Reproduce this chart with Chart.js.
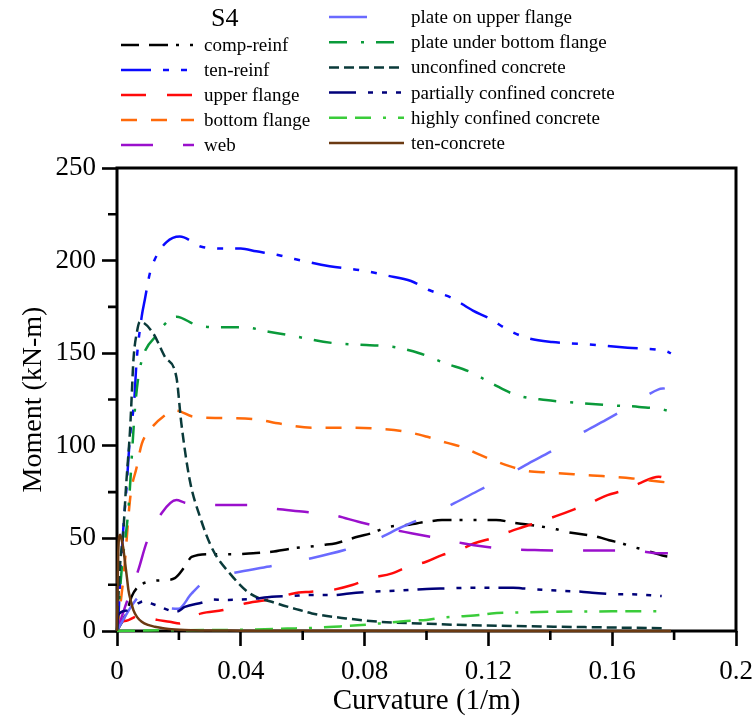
<!DOCTYPE html>
<html>
<head>
<meta charset="utf-8">
<title>S4 moment-curvature contributions</title>
<script src="https://cdn.jsdelivr.net/npm/chart.js@4/dist/chart.umd.min.js"></script>
<style>
  html, body { margin: 0; padding: 0; background: #fff; }
  #wrap { width: 755px; height: 722px; }
</style>
</head>
<body>
<div id="wrap"><canvas id="c" width="755" height="722"></canvas></div>
<script>
// ---- data: [curvature (1/m), moment (kN-m)] ----
const compReinf = [[0,0],[0.001,3],[0.002,6],[0.0035,12],[0.0047,18.5],[0.0069,24],[0.0101,26.6],[0.0155,27.5],[0.0187,28.5],[0.0219,34.7],[0.0241,40],[0.03,41.5],[0.037,41.4],[0.044,42],[0.05,42.8],[0.057,44.7],[0.062,45.5],[0.0665,46.4],[0.0708,47.4],[0.074,49],[0.078,51],[0.082,52.7],[0.0848,54.5],[0.088,56.3],[0.0935,57.2],[0.0967,58.1],[0.1,59],[0.105,59.9],[0.11,60],[0.117,60],[0.1225,60],[0.128,58.5],[0.132,57.6],[0.1375,56.3],[0.142,54.9],[0.145,53.6],[0.152,51.8],[0.1558,50.6],[0.159,49],[0.163,47.4],[0.1665,45.5],[0.17,44],[0.177,40.5],[0.179,40]];
const tenReinf = [[0,0],[0.0004,6],[0.001,27.5],[0.002,54.5],[0.0031,78],[0.0042,105],[0.0056,125],[0.0063,145],[0.008,170],[0.009,179],[0.0106,193],[0.0123,201],[0.016,210],[0.0203,213],[0.0273,207.5],[0.035,206.5],[0.04,206.5],[0.045,205],[0.052,203],[0.057,201],[0.0687,197],[0.08,194.5],[0.087,192],[0.095,189],[0.101,184],[0.108,180],[0.115,173],[0.12,169],[0.127,162],[0.133,158],[0.1406,156],[0.15,155],[0.158,154],[0.165,153],[0.1774,151],[0.179,150]];
const upperFlange = [[0,0],[0.001,4.5],[0.003,5.5],[0.0068,8],[0.009,7.5],[0.013,6],[0.017,5],[0.0203,4],[0.022,6],[0.0273,9.5],[0.0343,11.3],[0.0418,15],[0.0515,17.7],[0.057,20.3],[0.0628,21.2],[0.069,22],[0.076,24.8],[0.082,28.5],[0.0886,31],[0.094,34.7],[0.0999,37.4],[0.105,41],[0.1106,43.7],[0.1155,47.4],[0.121,50],[0.1257,53],[0.131,56],[0.1365,59],[0.1418,62],[0.1477,65.7],[0.153,69.3],[0.1585,73.4],[0.1639,76],[0.1692,80],[0.175,83.3],[0.178,82]];
const bottomFlange = [[0,0],[0.0015,20],[0.0026,38],[0.0036,60],[0.0045,75],[0.0063,88],[0.008,101],[0.0106,108.5],[0.0149,115.7],[0.0192,119],[0.0246,115.7],[0.034,115],[0.045,114.3],[0.0526,112],[0.063,109.8],[0.074,109.8],[0.0848,109.2],[0.0935,107.6],[0.0999,105],[0.1064,101.7],[0.1128,98.6],[0.116,96],[0.1268,89],[0.132,86.6],[0.1397,85.5],[0.1535,84],[0.1665,82.4],[0.1757,80.6],[0.179,80]];
const web = [[0,0],[0.001,5],[0.0026,13],[0.0045,22],[0.0069,33],[0.0096,48],[0.0144,63.6],[0.0192,70.7],[0.0219,69.3],[0.032,68],[0.042,68],[0.051,66],[0.0606,64.4],[0.0697,62.6],[0.078,59],[0.087,55.4],[0.0955,52.7],[0.1035,50.2],[0.1117,47.4],[0.119,45.5],[0.127,44.1],[0.135,43.7],[0.144,43.4],[0.154,43.4],[0.162,43.4],[0.167,43.4],[0.175,42],[0.178,42]];
const plateUpper = [[0,0],[0.002,6],[0.0045,13],[0.0074,18.5],[0.011,16],[0.015,13],[0.0198,12],[0.024,20],[0.0284,27],[0.034,30],[0.0397,32],[0.0515,35.6],[0.0628,39.3],[0.0735,43.7],[0.0832,49],[0.0923,56.3],[0.101,62.6],[0.109,69],[0.117,76],[0.1246,82.5],[0.132,89.6],[0.141,97.7],[0.149,105.8],[0.158,114],[0.1665,122],[0.175,130.5],[0.177,131]];
const plateBottom = [[0,0],[0.0015,33],[0.0037,66],[0.0053,108],[0.0058,120],[0.0068,136],[0.0074,142],[0.009,151],[0.0133,160.7],[0.0149,164.7],[0.0192,169.7],[0.026,165],[0.034,164],[0.041,164],[0.049,161.6],[0.0547,160],[0.0697,155.5],[0.0805,154.4],[0.089,153.5],[0.0977,150],[0.106,144.6],[0.114,140],[0.1214,133.4],[0.129,127.4],[0.1386,124.7],[0.148,123.3],[0.158,122],[0.1687,121],[0.1777,119],[0.179,118]];
const unconfined = [[0,0],[0.0005,20],[0.001,36],[0.002,53],[0.003,80],[0.0042,108],[0.0047,125],[0.0053,146],[0.0065,162],[0.0074,167],[0.0117,160.7],[0.0155,148],[0.0192,137],[0.0208,112],[0.0235,81.5],[0.0268,61.7],[0.031,43.7],[0.0365,31],[0.0429,20.3],[0.0515,15],[0.059,11.3],[0.063,9.5],[0.074,6.8],[0.0848,5],[0.0977,4.1],[0.1128,3.2],[0.143,2.3],[0.177,1.5]];
const partiallyConfined = [[0,0],[0.0004,8.6],[0.003,11],[0.0069,15],[0.0085,16],[0.0125,14],[0.0192,10.4],[0.0219,13],[0.0284,15.8],[0.03,17],[0.036,16.8],[0.043,17.2],[0.05,18.5],[0.057,19],[0.062,19.4],[0.07,19.4],[0.075,20.3],[0.0826,21.2],[0.091,21.8],[0.1,22.7],[0.107,23],[0.115,23.4],[0.128,23.4],[0.131,23],[0.14,22],[0.15,21.2],[0.1535,20.7],[0.163,19.8],[0.1655,19.8],[0.176,18.9]];
const highlyConfined = [[0,0],[0.01,0.3],[0.03,0.5],[0.045,0.8],[0.055,1.3],[0.062,1.6],[0.07,2.3],[0.079,3.2],[0.085,4.1],[0.091,5],[0.0955,5.6],[0.1,6],[0.105,7.2],[0.111,7.9],[0.117,8.6],[0.121,9.5],[0.128,9.9],[0.132,10.1],[0.141,10.4],[0.15,10.5],[0.16,10.6],[0.17,10.6],[0.177,10.6]];
const tenConcrete = [[0,0],[0.0002,25],[0.0004,42],[0.0007,51],[0.001,52],[0.0014,50],[0.002,45],[0.0026,37],[0.0032,29],[0.0037,22],[0.0045,16],[0.0053,11.3],[0.0065,7.5],[0.008,5],[0.01,3.3],[0.0122,2.3],[0.015,1.5],[0.0176,0.9],[0.025,0.4],[0.04,0.2],[0.08,0.1],[0.179,0]];

const seriesLabels = ['comp-reinf','ten-reinf','upper flange','bottom flange','web','plate on upper flange','plate under bottom flange','unconfined concrete','partially confined concrete','highly confined concrete','ten-concrete'];
const seriesData = [compReinf, tenReinf, upperFlange, bottomFlange, web, plateUpper, plateBottom, unconfined, partiallyConfined, highlyConfined, tenConcrete];

const legendTitle = 'S4';
const xTickValues = [0, 0.04, 0.08, 0.12, 0.16, 0.2];
const xTickLabels = ['0', '0.04', '0.08', '0.12', '0.16', '0.2'];
const xMinorTicks = [0.02, 0.06, 0.10, 0.14, 0.18];
const yTickValues = [0, 50, 100, 150, 200, 250];
const yTickLabels = ['0', '50', '100', '150', '200', '250'];
const yMinorTicks = [25, 75, 125, 175, 225];

// ---- line styles ----
const lineColors = ['#000000','#0a0aff','#ff0a0a','#ff6a0a','#9a10cc','#6a6aff','#0a9a3a','#0a3a3a','#00007a','#3acc3a','#6b3a12'];
const lineDashes = [
  [18,10,19,8,3,11,3,11],
  [30,12,6,12,6,12],
  [25,21],
  [16,14],
  [32,30],
  [38,38],
  [18,14,3,12],
  [10,5],
  [27,12,5,9,5,9,5,9],
  [18,8,16,12,3,12],
  []
];

const FONT = '"Liberation Serif", "Times New Roman", Times, serif';
Chart.defaults.font.family = FONT;
Chart.defaults.color = '#000';

const datasets = seriesData.map((pts, i) => ({
  label: seriesLabels[i],
  data: pts.map(([x, y]) => ({ x, y })),
  borderColor: lineColors[i],
  backgroundColor: lineColors[i],
  borderWidth: 2.5,
  borderDash: lineDashes[i],
  showLine: true,
  pointRadius: 0,
  cubicInterpolationMode: 'monotone',
  fill: false,
  clip: 4,
  order: seriesData.length - i
}));

// plot frame drawn under the data lines
const frame = {
  id: 'frame',
  beforeDatasetsDraw(chart) {
    const { ctx, chartArea: a } = chart;
    ctx.save();
    ctx.strokeStyle = '#000';
    ctx.lineWidth = 3;
    ctx.strokeRect(a.left, a.top, a.right - a.left, a.bottom - a.top);
    ctx.restore();
  }
};

// short minor tick marks between the labelled ones
const minorTicks = {
  id: 'minorTicks',
  afterDraw(chart) {
    const { ctx, chartArea: a, scales } = chart;
    ctx.save();
    ctx.strokeStyle = '#000';
    ctx.lineWidth = 2.6;
    ctx.beginPath();
    xMinorTicks.forEach(v => {
      const px = scales.x.getPixelForValue(v);
      ctx.moveTo(px, a.bottom); ctx.lineTo(px, a.bottom + 9);
    });
    yMinorTicks.forEach(v => {
      const py = scales.y.getPixelForValue(v);
      ctx.moveTo(a.left - 9, py); ctx.lineTo(a.left, py);
    });
    ctx.stroke();
    ctx.restore();
  }
};

// two-column legend above the plot
const legendBlock = {
  id: 'legendBlock',
  afterDraw(chart) {
    const ctx = chart.ctx;
    ctx.save();
    ctx.fillStyle = '#000';
    ctx.textBaseline = 'middle';
    ctx.textAlign = 'left';
    ctx.font = '26px ' + FONT;
    ctx.fillText(legendTitle, 211, 19);
    ctx.font = '19px ' + FONT;
    chart.data.datasets.forEach((ds, i) => {
      const right = i >= 5;
      const row = right ? i - 5 : i;
      const yy = right ? 17 + row * 25.2 : 45 + row * 25;
      const x0 = right ? 329 : 121;
      const x1 = right ? 404 : 194;
      const tx = right ? 411 : 204;
      ctx.strokeStyle = ds.borderColor;
      ctx.lineWidth = 2.5;
      ctx.setLineDash(ds.borderDash);
      ctx.beginPath();
      ctx.moveTo(x0, yy); ctx.lineTo(x1, yy);
      ctx.stroke();
      ctx.setLineDash([]);
      ctx.fillText(ds.label, tx, yy + 1);
    });
    ctx.restore();
  }
};

new Chart(document.getElementById('c'), {
  type: 'scatter',
  data: { datasets },
  options: {
    responsive: false,
    animation: false,
    devicePixelRatio: 1,
    events: [],
    layout: { padding: { top: 168, right: 19, left: 0, bottom: 0 } },
    plugins: { legend: { display: false }, tooltip: { enabled: false } },
    scales: {
      x: {
        type: 'linear',
        min: 0, max: 0.2,
        afterFit: s => { s.height = 91; s.paddingLeft = 0; s.paddingRight = 0; },
        afterBuildTicks: s => { s.ticks = xTickValues.map(v => ({ value: v })); },
        border: { display: false },
        grid: { display: true, drawOnChartArea: false, drawTicks: true, tickLength: 15, tickWidth: 2.6, tickColor: '#000', color: '#000' },
        ticks: {
          padding: 10,
          maxRotation: 0,
          autoSkip: false,
          font: { size: 27, family: FONT },
          color: '#000',
          callback: (v, i) => xTickLabels[i]
        },
        title: { display: true, text: 'Curvature (1/m)', font: { size: 29, family: FONT }, color: '#000', padding: { top: 0, bottom: 3 } }
      },
      y: {
        type: 'linear',
        min: 0, max: 250,
        afterFit: s => { s.width = 117; s.paddingTop = 0; s.paddingBottom = 0; },
        afterBuildTicks: s => { s.ticks = yTickValues.map(v => ({ value: v })); },
        border: { display: false },
        grid: { display: true, drawOnChartArea: false, drawTicks: true, tickLength: 15, tickWidth: 2.6, tickColor: '#000', color: '#000' },
        ticks: {
          padding: 6,
          autoSkip: false,
          font: { size: 27, family: FONT },
          color: '#000',
          callback: (v, i) => yTickLabels[i]
        },
        title: { display: true, text: 'Moment (kN-m)', font: { size: 28, family: FONT }, color: '#000', padding: { top: 17, bottom: 0 } }
      }
    }
  },
  plugins: [frame, minorTicks, legendBlock]
});
</script>
</body>
</html>
